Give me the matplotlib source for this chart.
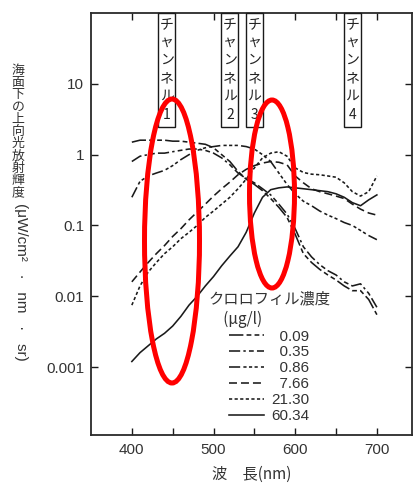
import matplotlib
matplotlib.use("Agg")
import matplotlib.pyplot as plt
from matplotlib.patches import Ellipse, Rectangle
from matplotlib import transforms
from matplotlib.font_manager import FontProperties
from matplotlib.ticker import FixedLocator, FixedFormatter, NullLocator

# ---------------- data ----------------
wavelength = [400, 410, 420, 430, 440, 450, 460, 470, 480, 490, 500,
              510, 520, 530, 540, 550, 560, 570, 580, 590, 600,
              610, 620, 630, 640, 650, 660, 670, 680, 690, 700]

chl_labels = ["0.09", "0.35", "0.86", "7.66", "21.30", "60.34"]

rad_0_09 = [1.5, 1.6, 1.6, 1.6, 1.6, 1.55, 1.55, 1.5, 1.45, 1.4, 1.25,
            1.0, 0.8, 0.58, 0.45, 0.38, 0.31, 0.24, 0.18, 0.13, 0.075,
            0.04, 0.03, 0.024, 0.02, 0.017, 0.014, 0.012, 0.012, 0.009, 0.0055]
rad_0_35 = [0.8, 0.95, 1.0, 1.05, 1.05, 1.1, 1.15, 1.2, 1.2, 1.15, 1.05,
            0.9, 0.72, 0.55, 0.46, 0.4, 0.33, 0.27, 0.2, 0.145, 0.09,
            0.05, 0.036, 0.028, 0.023, 0.02, 0.016, 0.014, 0.015, 0.011, 0.007]
rad_0_86 = [0.25, 0.42, 0.5, 0.55, 0.6, 0.7, 0.85, 1.0, 1.15, 1.25, 1.3,
            1.35, 1.35, 1.35, 1.3, 1.2, 1.0, 0.8, 0.55, 0.38, 0.28,
            0.22, 0.19, 0.16, 0.14, 0.125, 0.11, 0.1, 0.085, 0.072, 0.063]
rad_7_66 = [0.016, 0.022, 0.03, 0.04, 0.052, 0.07, 0.09, 0.12, 0.155, 0.2, 0.26,
            0.33, 0.41, 0.52, 0.62, 0.7, 0.76, 0.8, 0.78, 0.72, 0.5,
            0.4, 0.33, 0.3, 0.28, 0.26, 0.24, 0.2, 0.17, 0.15, 0.14]
rad_21_30 = [0.0075, 0.014, 0.022, 0.03, 0.04, 0.05, 0.065, 0.08, 0.1, 0.13, 0.16,
             0.2, 0.25, 0.33, 0.45, 0.65, 0.9, 1.05, 1.1, 0.95, 0.65,
             0.56, 0.53, 0.52, 0.5, 0.48, 0.4, 0.3, 0.26, 0.3, 0.5]
rad_60_34 = [0.0012, 0.0016, 0.002, 0.0025, 0.003, 0.0038, 0.0052, 0.0075, 0.01, 0.014, 0.019,
             0.027, 0.037, 0.05, 0.08, 0.15, 0.25, 0.32, 0.34, 0.35, 0.34,
             0.33, 0.32, 0.31, 0.3, 0.28, 0.25, 0.21, 0.19, 0.23, 0.27]

series = [rad_0_09, rad_0_35, rad_0_86, rad_7_66, rad_21_30, rad_60_34]

channel_names = ["チャンネル1", "チャンネル2", "チャンネル3", "チャンネル4"]
channel_wl = [443, 520, 550, 670]

x_ticks = [400, 500, 600, 700]
x_minor_ticks = [450, 550, 650]
y_ticks = [10, 1, 0.1, 0.01, 0.001]
y_ticklabels = ["10", "1", "0.1", "0.01", "0.001"]

ylabel_jp = "海面下の上向光放射輝度"
ylabel_unit = "(μW/cm²   ·   nm   ·   sr)"
xlabel = "波\u3000長(nm)"
legend_title = "クロロフィル濃度\n\u3000(μg/l)"

# ---------------- styles ----------------
line_styles = [(0, (9, 2, 3, 2, 3, 2)),
               (0, (7, 2, 1.5, 2, 3, 2)),
               (0, (7, 2, 2, 1.5, 2, 1.5, 2, 2)),
               (0, (5, 2.5)),
               (0, (2, 1.5)),
               "-"]
ink = "#1a1a1a"
txt = "#333333"
CJK = ["Noto Sans CJK JP", "DejaVu Sans"]
LAT = ["Liberation Sans", "Noto Sans CJK JP", "DejaVu Sans"]

W, H = 413, 488
def fx(px):
    return px / W
def fy(py):
    return 1 - py / H

fig = plt.figure(figsize=(W / 100, H / 100), dpi=100)
ax_l, ax_r, ax_t, ax_b = 91, 412, 13, 435
ax = fig.add_axes([fx(ax_l), fy(ax_b), (ax_r - ax_l) / W, (ax_b - ax_t) / H])

handles = []
for vals, ls, lab in zip(series, line_styles, chl_labels):
    h, = ax.plot(wavelength, vals, color=ink, lw=1.15, linestyle=ls, label=lab)
    handles.append(h)

ax.set_yscale("log")
ax.set_xlim(350, 743)
ax.set_ylim(1.1e-4, 100)

ax.xaxis.set_major_locator(FixedLocator(x_ticks))
ax.xaxis.set_minor_locator(FixedLocator(x_minor_ticks))
ax.yaxis.set_major_locator(FixedLocator(y_ticks))
ax.yaxis.set_major_formatter(FixedFormatter(y_ticklabels))
ax.yaxis.set_minor_locator(NullLocator())
ax.tick_params(which="both", direction="in", top=True, right=True,
               length=5, width=1.0, color=ink)
ax.tick_params(axis="x", pad=6, labelsize=11, labelcolor=txt)
ax.tick_params(axis="y", pad=5, labelsize=11, labelcolor=txt)
for t in ax.get_xticklabels() + ax.get_yticklabels():
    t.set_family(LAT)
for s in ax.spines.values():
    s.set_linewidth(1.3)
    s.set_color("#2a2a2a")

# x label
ax.set_xlabel(xlabel, fontsize=11, family=CJK, color=txt, labelpad=6)

# y label: vertical Japanese (upright characters) + rotated unit
for i, ch in enumerate(ylabel_jp):
    fig.text(fx(18), fy(70 + i * 12.3), ch, fontsize=9.3, family=CJK,
             ha="center", va="center", color=txt)
fig.text(fx(21), fy(203), ylabel_unit, rotation=-90, fontsize=11,
         family=LAT, ha="center", va="top", color=txt)

# channel labels
blend = transforms.blended_transform_factory(ax.transData, fig.transFigure)
char_y = [24, 42, 60, 78, 96, 115]
for name, wl in zip(channel_names, channel_wl):
    rect = Rectangle((wl - 10.4, fy(127)), 20.8, fy(13) - fy(127),
                     transform=blend, facecolor="white", edgecolor=ink,
                     lw=1.0, clip_on=False, zorder=5)
    ax.add_patch(rect)
    for ch, cy in zip(name, char_y):
        ax.text(wl, fy(cy), ch, transform=blend, fontsize=10, family=CJK,
                ha="center", va="center", color="#222222", zorder=6)

# legend
leg = ax.legend(handles=handles,
                labels=[("\u2007" + l if len(l) == 4 else l) for l in chl_labels],
                loc="upper left",
                bbox_to_anchor=((208 - ax_l) / (ax_r - ax_l), (ax_b - 290) / (ax_b - ax_t)),
                frameon=False, borderpad=0, borderaxespad=0,
                handlelength=2.3, handletextpad=0.45, labelspacing=0.13,
                prop=FontProperties(family=LAT, size=11),
                title=legend_title,
                title_fontproperties=FontProperties(family=CJK, size=11))
for t in leg.get_texts():
    t.set_color(txt)
leg.get_title().set_color(txt)
leg.get_title().set_linespacing(1.25)

# red annotation ellipses
for cx, cy, w, h in [(172, 241, 55, 284), (272, 194, 45, 188)]:
    e = Ellipse((fx(cx), fy(cy)), w / W, h / H, transform=fig.transFigure,
                facecolor="none", edgecolor="#ff0000", lw=3.6, zorder=20)
    fig.add_artist(e)

fig.savefig("out.png", dpi=100)
